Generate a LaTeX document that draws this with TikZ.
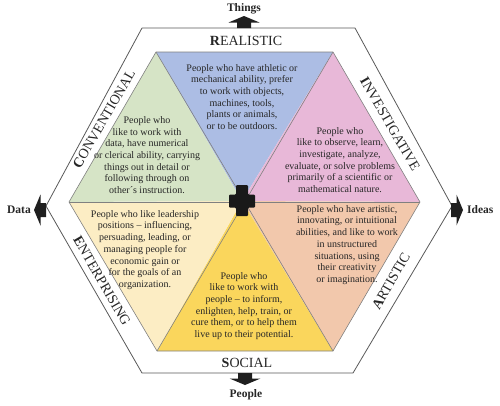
\documentclass[tikz,border=0pt]{standalone}
\usepackage{fontspec}
\setmainfont{Liberation Serif}
\definecolor{blueT}{RGB}{172,189,228}
\definecolor{pinkT}{RGB}{232,184,216}
\definecolor{greenT}{RGB}{214,228,198}
\definecolor{creamT}{RGB}{252,237,196}
\definecolor{yellowT}{RGB}{250,214,92}
\definecolor{peachT}{RGB}{242,200,172}
\begin{document}
\begin{tikzpicture}[x=1pt,y=-1pt,
  body/.style={font=\fontsize{10}{11.7}\selectfont, align=center, text=black!85, inner sep=0pt},
  lab/.style={font=\fontsize{14}{14}\selectfont, text=black!85, inner sep=0pt},
  dir/.style={font=\bfseries\fontsize{11.5}{12}\selectfont, text=black!85, inner sep=0pt},
  outerline/.style={draw=black!65, line width=0.8pt, line join=round},
  tri/.style={draw=black!50, line width=0.6pt, line join=round},
  barrow/.pic={\fill[black!88] (-7,0) -- (-7,-5.5) -- (-15.5,-5.5) -- (0,-12) -- (15.5,-5.5) -- (7,-5.5) -- (7,0) -- cycle;}]
\useasboundingbox (0,0) rectangle (500,405);
% coordinates
\coordinate (C) at (242,201);
\coordinate (I1) at (156,52);
\coordinate (I2) at (333,52);
\coordinate (I3) at (420,202);
\coordinate (I4) at (333,351);
\coordinate (I5) at (157,351);
\coordinate (I6) at (69,202);
\coordinate (O1) at (142,28);
\coordinate (O2) at (355,28);
\coordinate (O3) at (452,206);
\coordinate (O4) at (353,373);
\coordinate (O5) at (142,373);
\coordinate (O6) at (46,206);
% outer hexagon
\draw[outerline] (O1) -- (O2) -- (O3) -- (O4) -- (O5) -- (O6) -- cycle;
% triangles
\fill[blueT] (I1) -- (I2) -- (C) -- cycle;
\fill[pinkT] (I2) -- (I3) -- (C) -- cycle;
\fill[peachT] (I3) -- (I4) -- (C) -- cycle;
\fill[yellowT] (I4) -- (I5) -- (C) -- cycle;
\fill[creamT] (I5) -- (I6) -- (C) -- cycle;
\fill[greenT] (I6) -- (I1) -- (C) -- cycle;
\draw[tri] (I1) -- (I2) -- (I3) -- (I4) -- (I5) -- (I6) -- cycle;
\draw[tri] (I1) -- (I4);
\draw[tri] (I2) -- (I5);
\draw[tri] (I3) -- (I6);
% cross
\fill[black!90, rounded corners=1pt] ([shift={(-6,-16)}]C) -- ([shift={(6,-16)}]C) -- ([shift={(6,-6.5)}]C) -- ([shift={(13,-6.5)}]C) -- ([shift={(13,6.5)}]C) -- ([shift={(6,6.5)}]C) -- ([shift={(6,15)}]C) -- ([shift={(-6,15)}]C) -- ([shift={(-6,6.5)}]C) -- ([shift={(-13,6.5)}]C) -- ([shift={(-13,-6.5)}]C) -- ([shift={(-6,-6.5)}]C) -- cycle;
% direction arrows
\pic at (244,28) {barrow};
\pic[rotate=180] at (245,373) {barrow};
\pic[rotate=90] at (46,210) {barrow};
\pic[rotate=-90] at (451,210) {barrow};
\node[dir] (things) at (244,9) {Things};
\node[dir] (people) at (246,395) {People};
\node[dir, anchor=east] (data) at (31,210) {Data};
\node[dir, anchor=west] (ideas) at (467,210) {Ideas};
% type labels
\node[lab] (realistic) at (246,41) {\textbf{R}EALISTIC};
\node[lab] (social) at (247,363) {\textbf{S}OCIAL};
\node[lab, rotate=60] (conventional) at (104,119) {\textbf{C}ONVENTIONAL};
\node[lab, rotate=-60] (investigative) at (390,124) {\textbf{I}NVESTIGATIVE};
\node[lab, rotate=-60] (enterprising) at (102,281) {\textbf{E}NTERPRISING};
\node[lab, rotate=60] (artistic) at (391,281) {\textbf{A}RTISTIC};
% descriptions
\node[body] (tR) at (242,97) {People who have athletic or\\mechanical ability, prefer\\to work with objects,\\machines, tools,\\plants or animals,\\or to be outdoors.};
\node[body] (tC) at (147,155) {People who\\like to work with\\data, have numerical\\or clerical ability, carrying\\things out in detail or\\following through on\\other´s instruction.};
\node[body] (tI) at (340,160) {People who\\like to observe, learn,\\investigate, analyze,\\evaluate, or solve problems\\primarily of a scientific or\\mathematical nature.};
\node[body] (tE) at (145,250) {People who like leadership\\positions -- influencing,\\persuading, leading, or\\managing people for\\economic gain or\\for the goals of an\\organization.};
\node[body] (tA) at (347,245) {People who have artistic,\\innovating, or intuitional\\abilities, and like to work\\in unstructured\\situations, using\\their creativity\\or imagination.};
\node[body] (tS) at (244,306) {People who\\like to work with\\people -- to inform,\\enlighten, help, train, or\\cure them, or to help them\\live up to their potential.};
\end{tikzpicture}
\end{document}
